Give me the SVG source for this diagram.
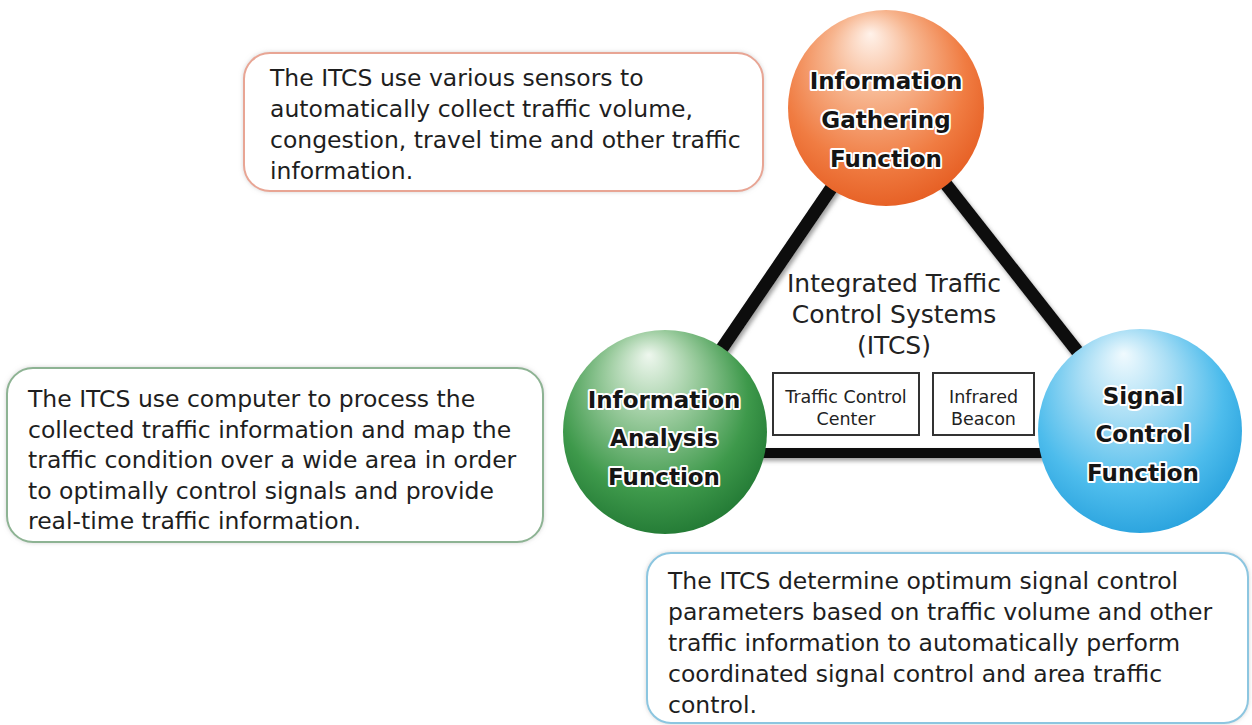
<svg xmlns="http://www.w3.org/2000/svg" width="1252" height="725" viewBox="0 0 1252 725">
<style>
.body{font-family:"DejaVu Sans","Liberation Sans",sans-serif;font-size:23.5px;fill:#1e1e1e}
.ctr{font-family:"DejaVu Sans","Liberation Sans",sans-serif;font-size:25px;fill:#222;text-anchor:middle}
.box{font-family:"DejaVu Sans","Liberation Sans",sans-serif;font-size:17.5px;fill:#222;text-anchor:middle}
.lbl{font-family:"DejaVu Sans","Liberation Sans",sans-serif;font-weight:bold;font-size:23px;fill:#151515;text-anchor:middle;stroke:#fff;stroke-width:4;stroke-linejoin:round;paint-order:stroke}
.conn{stroke:#0a0a0a;fill:none;stroke-linecap:butt}
.inbox{fill:#fff;stroke:#333;stroke-width:2}
</style>
<defs>
<radialGradient id="gOrange" cx="0.45" cy="0.4" r="0.62" fx="0.42" fy="0.12">
<stop offset="0" stop-color="#fff2ea"/>
<stop offset="0.35" stop-color="#f7b690"/>
<stop offset="0.75" stop-color="#f07c42"/>
<stop offset="1" stop-color="#e65f24"/>
</radialGradient>
<radialGradient id="gGreen" cx="0.45" cy="0.4" r="0.62" fx="0.42" fy="0.12">
<stop offset="0" stop-color="#eef7ee"/>
<stop offset="0.35" stop-color="#9ccc9f"/>
<stop offset="0.75" stop-color="#3e994b"/>
<stop offset="1" stop-color="#237a35"/>
</radialGradient>
<radialGradient id="gBlue" cx="0.45" cy="0.4" r="0.62" fx="0.42" fy="0.12">
<stop offset="0" stop-color="#f0fafe"/>
<stop offset="0.35" stop-color="#a9def5"/>
<stop offset="0.75" stop-color="#4dbcec"/>
<stop offset="1" stop-color="#2aa3de"/>
</radialGradient>
<filter id="sh" x="-20%" y="-20%" width="140%" height="140%">
<feDropShadow dx="2" dy="3" stdDeviation="2" flood-color="#777" flood-opacity="0.7"/>
</filter>
<filter id="glow" x="-10%" y="-10%" width="120%" height="120%">
<feDropShadow dx="0" dy="0" stdDeviation="2" flood-color="#aaa" flood-opacity="0.5"/>
</filter>
</defs>
<rect width="1252" height="725" fill="#fff"/>

<g id="connectors" filter="url(#sh)">
<line class="conn" x1="886" y1="108" x2="665" y2="432" stroke-width="13"/>
<line class="conn" x1="886" y1="108" x2="1140" y2="431" stroke-width="13"/>
<line class="conn" x1="665" y1="453" x2="1140" y2="453" stroke-width="10"/>
</g>

<g id="desc-gathering">
<rect x="244" y="53" width="519" height="138" rx="26" fill="#fff" stroke="#e8a594" stroke-width="2" filter="url(#glow)"/>
<text class="body" x="270" y="86">The ITCS use various sensors to</text>
<text class="body" x="270" y="117">automatically collect traffic volume,</text>
<text class="body" x="270" y="148">congestion, travel time and other traffic</text>
<text class="body" x="270" y="179"> information.</text>
</g>

<g id="desc-analysis">
<rect x="7" y="368" width="536" height="174" rx="26" fill="#fff" stroke="#8db393" stroke-width="2" filter="url(#glow)"/>
<text class="body" x="28" y="407">The ITCS use computer to process the</text>
<text class="body" x="28" y="438">collected traffic information and map the</text>
<text class="body" x="28" y="468">traffic condition over a wide area in order</text>
<text class="body" x="28" y="499">to optimally control signals and provide</text>
<text class="body" x="28" y="529">real-time traffic information.</text>
</g>

<g id="desc-signal">
<rect x="647" y="553" width="601" height="170" rx="24" fill="#fff" stroke="#8cc6e0" stroke-width="2" filter="url(#glow)"/>
<text class="body" x="668" y="589">The ITCS determine optimum signal control</text>
<text class="body" x="668" y="620">parameters based on traffic volume and other</text>
<text class="body" x="668" y="651">traffic information to automatically perform</text>
<text class="body" x="668" y="682">coordinated signal control and area traffic</text>
<text class="body" x="668" y="713">control.</text>
</g>

<g id="itcs-center">
<text class="ctr" x="894" y="292">Integrated Traffic</text>
<text class="ctr" x="894" y="323">Control Systems</text>
<text class="ctr" x="894" y="354">(ITCS)</text>
</g>

<g id="traffic-control-center">
<rect class="inbox" x="773" y="373" width="146" height="62"/>
<text class="box" x="846" y="403">Traffic Control</text>
<text class="box" x="846" y="425">Center</text>
</g>

<g id="infrared-beacon">
<rect class="inbox" x="933" y="373" width="101" height="62"/>
<text class="box" x="983.5" y="403">Infrared</text>
<text class="box" x="983.5" y="425">Beacon</text>
</g>

<g id="info-gathering">
<circle cx="886" cy="108" r="98" fill="url(#gOrange)"/>
<text class="lbl" x="886" y="89">Information</text>
<text class="lbl" x="886" y="128">Gathering</text>
<text class="lbl" x="886" y="167">Function</text>
</g>

<g id="info-analysis">
<circle cx="665" cy="432" r="102" fill="url(#gGreen)"/>
<text class="lbl" x="664" y="408">Information</text>
<text class="lbl" x="664" y="446">Analysis</text>
<text class="lbl" x="664" y="485">Function</text>
</g>

<g id="signal-control">
<circle cx="1140" cy="431" r="102" fill="url(#gBlue)"/>
<text class="lbl" x="1143" y="404">Signal</text>
<text class="lbl" x="1143" y="442">Control</text>
<text class="lbl" x="1143" y="481">Function</text>
</g>
</svg>
